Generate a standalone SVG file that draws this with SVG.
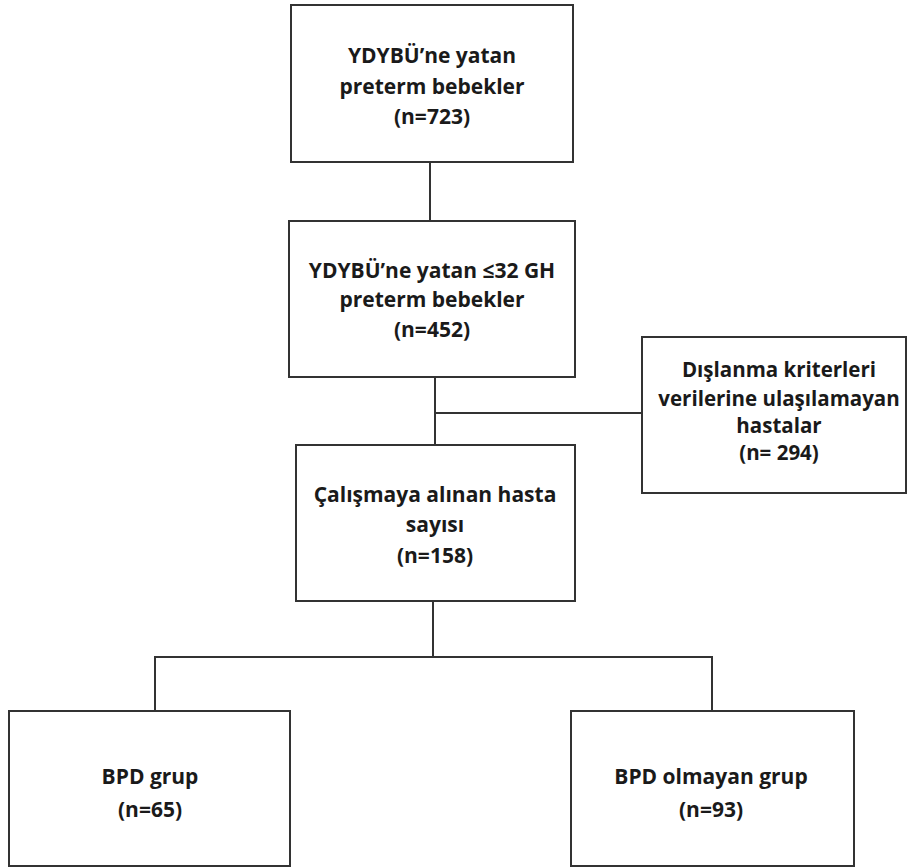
<svg xmlns="http://www.w3.org/2000/svg" width="911" height="867" viewBox="0 0 911 867">
<style>
.box{fill:#fff;stroke:#333;stroke-width:2}
.ln{fill:none;stroke:#333;stroke-width:2}
text{font-family:"Open Sans","Liberation Sans",sans-serif;font-weight:bold;font-size:21px;fill:#1a1a1a;text-anchor:middle}
.s{font-size:20.5px}
</style>
<rect width="911" height="867" fill="#fff"/>
<g id="connectors">
<line class="ln" x1="430" y1="162" x2="430" y2="221"/>
<line class="ln" x1="435" y1="377" x2="435" y2="445"/>
<line class="ln" x1="435" y1="413" x2="642" y2="413"/>
<line class="ln" x1="433" y1="601" x2="433" y2="657"/>
<polyline class="ln" points="155,711 155,657 712,657 712,711"/>
</g>
<g id="n1">
<rect class="box" x="291" y="5" width="282" height="157"/>
<text x="432" y="63">YDYBÜ’ne yatan</text>
<text x="432" y="94">preterm bebekler</text>
<text x="432" y="124">(n=723)</text>
</g>
<g id="n2">
<rect class="box" x="289" y="221" width="286" height="156"/>
<text x="432" y="278">YDYBÜ’ne yatan ≤32 GH</text>
<text x="432" y="307">preterm bebekler</text>
<text x="432" y="337">(n=452)</text>
</g>
<g id="n3">
<rect class="box" x="296" y="445" width="279" height="156"/>
<text x="435" y="502">Çalışmaya alınan hasta</text>
<text x="435" y="532">sayısı</text>
<text x="435" y="563">(n=158)</text>
</g>
<g id="n4">
<rect class="box" x="642" y="337" width="264" height="156"/>
<text class="s" x="779" y="377">Dışlanma kriterleri</text>
<text class="s" x="779" y="406">verilerine ulaşılamayan</text>
<text class="s" x="779" y="433">hastalar</text>
<text class="s" x="779" y="460">(n= 294)</text>
</g>
<g id="n5">
<rect class="box" x="9" y="711" width="281" height="155"/>
<text x="150" y="784">BPD grup</text>
<text x="150" y="817">(n=65)</text>
</g>
<g id="n6">
<rect class="box" x="571" y="711" width="283" height="155"/>
<text x="711" y="784">BPD olmayan grup</text>
<text x="711" y="817">(n=93)</text>
</g>
</svg>
